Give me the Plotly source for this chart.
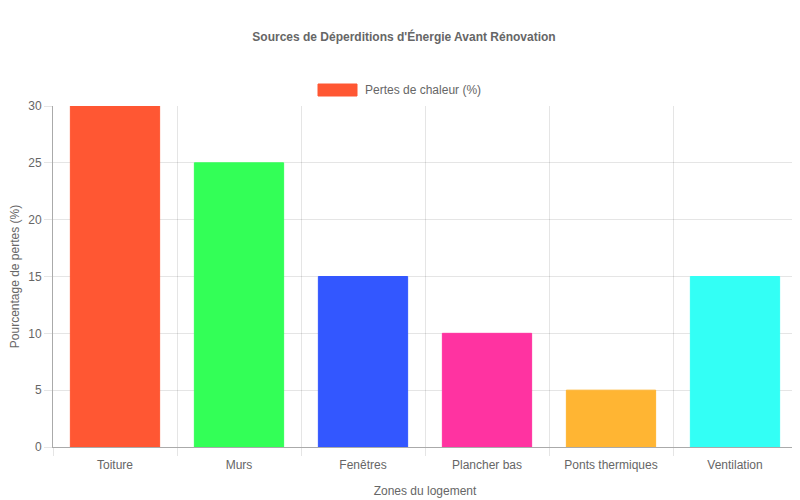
# Gráfico de barras: sources de déperditions d'énergie avant rénovation
import plotly.graph_objects as go

# Dados
zones = ['Toiture', 'Murs', 'Fenêtres', 'Plancher bas', 'Ponts thermiques', 'Ventilation']
pertes = [30, 25, 15, 10, 5, 15]
couleurs = ['#FF5733', '#33FF57', '#3357FF', '#FF33A1', '#FFB533', '#33FFF5']
nom_serie = 'Pertes de chaleur (%)'

GRIS = '#666666'
GRILLE = 'rgba(0,0,0,0.1)'
POLICE = 'Liberation Sans, Arial, sans-serif'

# a página tem 8px de margem no body, por isso a figura é 8px menor
LARG, HAUT = 792, 492

fig = go.Figure(go.Bar(
    x=zones,
    y=pertes,
    name=nom_serie,
    marker=dict(color=couleurs, line=dict(color=couleurs, width=1)),
    width=0.72,
    showlegend=False,
))

# Legenda desenhada à mão (retângulo largo como no Chart.js)
fig.add_shape(type='rect', xref='paper', yref='paper',
              x0=(318 - 53) / 744, x1=(357 - 53) / 744,
              y0=(447 - 96) / 341, y1=(447 - 84) / 341,
              fillcolor=couleurs[0], line=dict(color=couleurs[0], width=1))
fig.add_annotation(text=nom_serie, xref='paper', yref='paper',
                   x=(363 - 53) / 744, y=(447 - 90) / 341,
                   xanchor='left', yanchor='middle', showarrow=False,
                   font=dict(size=12, color=GRIS))

fig.update_layout(
    width=LARG, height=HAUT,
    margin=dict(l=45, r=3, t=98, b=53),
    paper_bgcolor='white', plot_bgcolor='white',
    font=dict(family=POLICE, size=12, color=GRIS),
    title=dict(text="<b>Sources de Déperditions d'Énergie Avant Rénovation</b>",
               x=0.5, xanchor='center', y=1 - 29 / HAUT, yanchor='middle',
               font=dict(size=12, color=GRIS)),
    bargap=0.28,
)

fig.update_xaxes(
    tickson='boundaries', showgrid=True, gridcolor=GRILLE,
    ticks='outside', ticklen=8, tickcolor=GRILLE, ticklabelstandoff=7,
    showline=True, linecolor='#aaaaaa', linewidth=1, automargin=False,
    title=dict(text='Zones du logement', standoff=15, font=dict(size=12, color=GRIS)),
)
fig.update_yaxes(
    range=[0, 30], dtick=5, showgrid=True, gridcolor=GRILLE,
    ticks='outside', ticklen=8, tickcolor=GRILLE,
    showline=True, linecolor='#aaaaaa', linewidth=1,
    zeroline=False, automargin=False,
    title=dict(text='Pourcentage de pertes (%)', standoff=10, font=dict(size=12, color=GRIS)),
)

fig.write_html('out.html')
